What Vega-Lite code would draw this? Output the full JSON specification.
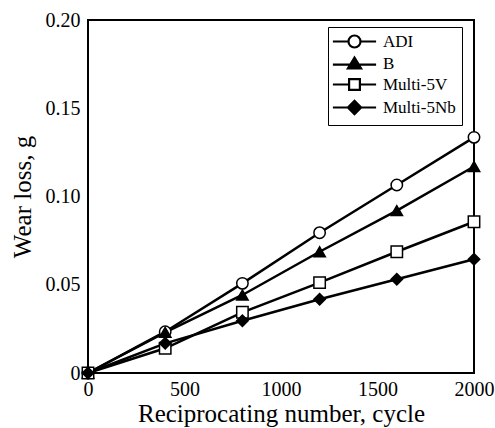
{
  "$schema": "https://vega.github.io/schema/vega-lite/v6.json",
  "width": 386,
  "height": 353,
  "autosize": "none",
  "padding": {"left": 88, "top": 20, "right": 21, "bottom": 55},
  "background": "white",
  "config": {
    "view": {"stroke": "black", "strokeWidth": 2},
    "font": "Liberation Serif"
  },
  "datasets": {
    "wear": [
      {"cycle": 0, "wear": 0, "series": "ADI"},
      {"cycle": 400, "wear": 0.0234, "series": "ADI"},
      {"cycle": 800, "wear": 0.0508, "series": "ADI"},
      {"cycle": 1200, "wear": 0.0795, "series": "ADI"},
      {"cycle": 1600, "wear": 0.1065, "series": "ADI"},
      {"cycle": 2000, "wear": 0.1335, "series": "ADI"},
      {"cycle": 0, "wear": 0, "series": "B"},
      {"cycle": 400, "wear": 0.023, "series": "B"},
      {"cycle": 800, "wear": 0.0442, "series": "B"},
      {"cycle": 1200, "wear": 0.0687, "series": "B"},
      {"cycle": 1600, "wear": 0.092, "series": "B"},
      {"cycle": 2000, "wear": 0.117, "series": "B"},
      {"cycle": 0, "wear": 0, "series": "Multi-5V"},
      {"cycle": 400, "wear": 0.014, "series": "Multi-5V"},
      {"cycle": 800, "wear": 0.0344, "series": "Multi-5V"},
      {"cycle": 1200, "wear": 0.0512, "series": "Multi-5V"},
      {"cycle": 1600, "wear": 0.0687, "series": "Multi-5V"},
      {"cycle": 2000, "wear": 0.0857, "series": "Multi-5V"},
      {"cycle": 0, "wear": 0, "series": "Multi-5Nb"},
      {"cycle": 400, "wear": 0.0168, "series": "Multi-5Nb"},
      {"cycle": 800, "wear": 0.0296, "series": "Multi-5Nb"},
      {"cycle": 1200, "wear": 0.0418, "series": "Multi-5Nb"},
      {"cycle": 1600, "wear": 0.0531, "series": "Multi-5Nb"},
      {"cycle": 2000, "wear": 0.0644, "series": "Multi-5Nb"}
    ],
    "xticks": [{"cycle": 500}, {"cycle": 1000}, {"cycle": 1500}],
    "yticks": [{"wear": 0.05}, {"wear": 0.1}, {"wear": 0.15}]
  },
  "data": {"name": "wear"},
  "encoding": {
    "x": {"field": "cycle", "type": "quantitative", "scale": {"domain": [0, 2000], "nice": false},
      "axis": {"values": [0, 500, 1000, 1500, 2000], "format": "d", "grid": false, "domain": false, "ticks": false, "labelColor": "black", "labelFont": "Liberation Serif", "labelFontSize": 20, "labelPadding": 6, "labelFlush": false, "title": "Reciprocating number, cycle", "titleColor": "black", "titleFontWeight": "normal", "titleFont": "Liberation Serif", "titleFontSize": 25, "titlePadding": 2}},
    "y": {"field": "wear", "type": "quantitative", "scale": {"domain": [0, 0.2], "nice": false},
      "axis": {"values": [0, 0.05, 0.1, 0.15, 0.2], "grid": false, "domain": false, "ticks": false, "labelColor": "black", "labelFont": "Liberation Serif", "labelFontSize": 20, "labelPadding": 8, "labelFlush": false, "labelExpr": "datum.value == 0 ? '0' : format(datum.value, '.2f')", "title": "Wear loss, g", "titleColor": "black", "titleFontWeight": "normal", "titleFont": "Liberation Serif", "titleFontSize": 25, "titlePadding": 10}}
  },
  "layer": [
    {
      "data": {"name": "xticks"},
      "mark": {"type": "tick", "orient": "vertical", "color": "black", "size": 6, "thickness": 2, "yOffset": -3},
      "encoding": {"y": {"datum": 0}}
    },
    {
      "data": {"name": "xticks"},
      "mark": {"type": "tick", "orient": "vertical", "color": "black", "size": 6, "thickness": 2, "yOffset": 3},
      "encoding": {"y": {"datum": 0.2}}
    },
    {
      "data": {"name": "yticks"},
      "mark": {"type": "tick", "orient": "horizontal", "color": "black", "size": 6, "thickness": 2, "xOffset": 3},
      "encoding": {"x": {"datum": 0}}
    },
    {
      "data": {"name": "yticks"},
      "mark": {"type": "tick", "orient": "horizontal", "color": "black", "size": 6, "thickness": 2, "xOffset": -3},
      "encoding": {"x": {"datum": 2000}}
    },
    {
      "mark": {"type": "line", "color": "black", "strokeWidth": 2.5},
      "encoding": {"detail": {"field": "series"}}
    },
    {
      "mark": {"type": "point", "filled": true, "stroke": "black", "strokeWidth": 1.5, "size": 130, "opacity": 1},
      "encoding": {
        "shape": {"field": "series", "type": "nominal",
          "scale": {"domain": ["ADI", "B", "Multi-5V", "Multi-5Nb"], "range": ["circle", "triangle-up", "square", "diamond"]},
          "legend": null},
        "fill": {"field": "series", "type": "nominal",
          "scale": {"domain": ["ADI", "B", "Multi-5V", "Multi-5Nb"], "range": ["white", "black", "white", "black"]},
          "legend": null}
      }
    },
    {
      "mark": {"type": "point", "filled": true, "strokeWidth": 2.2, "size": 144, "opacity": 0},
      "encoding": {
        "shape": {"field": "series", "type": "nominal",
          "scale": {"domain": ["ADI", "B", "Multi-5V", "Multi-5Nb"], "range": [
            "M-3.6,0L-1,0M1,0L3.6,0M-1,0A1,1,0,1,1,1,0A1,1,0,1,1,-1,0Z",
            "M-3.6,0.2L3.6,0.2M0,-1L1.1,0.8L-1.1,0.8Z",
            "M-3.6,0L-0.9,0M0.9,0L3.6,0M-0.9,-0.9L0.9,-0.9L0.9,0.9L-0.9,0.9Z",
            "M-3.6,0L3.6,0M0,-1.1L1.1,0L0,1.1L-1.1,0Z"]},
          "legend": {
            "title": null, "orient": "none", "legendX": 240, "legendY": 7,
            "strokeColor": "black", "fillColor": "white", "padding": 6,
            "labelFontSize": 17, "labelFont": "Liberation Serif", "labelColor": "black",
            "symbolSize": 144, "symbolOffset": 12, "labelOffset": 20, "rowPadding": 1,
            "symbolOpacity": 1, "symbolStrokeWidth": 2.2
          }},
        "fill": {"field": "series", "type": "nominal",
          "scale": {"domain": ["ADI", "B", "Multi-5V", "Multi-5Nb"], "range": ["white", "black", "white", "black"]}},
        "stroke": {"field": "series", "type": "nominal",
          "scale": {"domain": ["ADI", "B", "Multi-5V", "Multi-5Nb"], "range": ["black", "black", "black", "black"]}}
      }
    }
  ],
  "resolve": {
    "scale": {"shape": "independent", "fill": "independent", "stroke": "independent"},
    "legend": {"shape": "independent", "fill": "independent", "stroke": "independent"}
  }
}
